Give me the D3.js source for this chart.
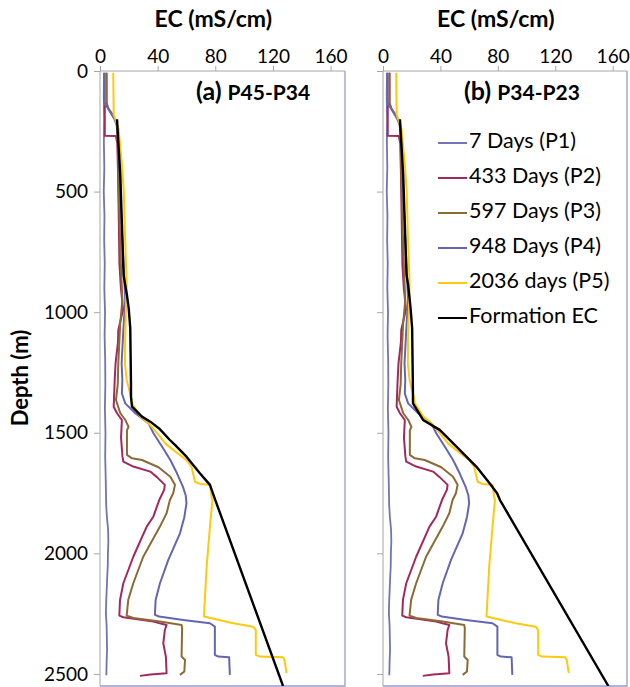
<!DOCTYPE html>
<html><head><meta charset="utf-8">
<script src="https://cdn.jsdelivr.net/npm/d3@7"></script>
<style>
html,body{margin:0;padding:0;background:#fff;}
svg text{font-family:Lato,"Open Sans",sans-serif;fill:#000;}
</style></head>
<body><svg id="chart" width="630" height="687"></svg>
<script>
// ---- data: [depth (m), EC (mS/cm)] ----
const seriesNames = ["7 Days (P1)","433 Days (P2)","597 Days (P3)","948 Days (P4)","2036 days (P5)","Formation EC"];
const xTicks = [0,40,80,120,160];
const yTicks = [0,500,1000,1500,2000,2500];
const panelTitles = [["(a)","P45-P34"],["(b)","P34-P23"]];

const p1 = [[7,2.8],[100,2.6],[200,2.9],[300,2.7],[400,3.0],[500,2.6],[600,3.1],[700,2.9],[800,3.3],[900,3.0],[1000,3.5],[1100,3.2],[1200,3.6],[1300,3.7],[1400,3.4],[1500,3.8],[1600,3.6],[1700,4.0],[1800,4.3],[1850,4.8],[1900,5.6],[1950,5.8],[2000,5.5],[2050,5.4],[2100,5.0],[2200,4.3],[2250,4.1],[2300,4.6],[2400,4.9],[2450,4.6],[2505,4.4]];
const p2 = [[7,4.5],[131,4.5],[150,3.3],[268,3.3],[270,11],[300,12],[420,12.5],[600,13],[800,13.5],[900,14.5],[956,15.5],[990,16],[1074,12.7],[1123,12.5],[1212,10.8],[1281,10.2],[1392,9.5],[1419,11.8],[1447,15.2],[1520,14.6],[1599,15.6],[1620,16.2],[1640,23.1],[1661,34.9],[1684,39.5],[1716,45],[1737,44.5],[1779,41.1],[1848,37],[1889,32.4],[2014,23.1],[2124,16.2],[2193,13.9],[2258,13.4],[2265,16.2],[2283,37],[2297,46.2],[2318,45],[2373,43.9],[2428,45.7],[2497,46.2],[2502,35],[2508,27.7]];
const p3 = [[7,4.5],[131,4.5],[157,6],[187,9.5],[214,11.5],[300,12.5],[500,13],[800,14.5],[950,15.5],[1050,14],[1212,12.7],[1300,12.3],[1364,11.1],[1419,14.1],[1447,17.6],[1475,19.8],[1490,18.7],[1592,18.7],[1606,22.2],[1613,29.1],[1643,40.6],[1682,48.8],[1716,52],[1751,50.8],[1779,48.5],[1834,46.2],[1889,41.6],[2014,30],[2124,23.1],[2193,19.6],[2258,18.5],[2268,23.1],[2283,41.6],[2297,56.6],[2310,57],[2428,56.6],[2442,59],[2490,58.5],[2504,55.5]];
const p4 = [[7,3],[131,3],[160,6],[200,10],[230,12],[400,13.5],[700,15.5],[950,17.5],[1074,16.2],[1212,15],[1281,15.5],[1337,15.2],[1378,17.5],[1419,24.5],[1461,33.7],[1502,37.1],[1557,43],[1613,48.8],[1668,53.4],[1723,57.5],[1760,59.5],[1793,60],[1850,58.5],[1917,55.5],[2027,47.4],[2124,41.6],[2193,38.6],[2255,38.1],[2262,41],[2276,57.8],[2290,76.3],[2304,79.7],[2421,79.7],[2428,82],[2431,89.6],[2504,90.1]];
const p5 = [[7,9.2],[180,9.5],[240,12.9],[394,15.3],[500,16.5],[673,17.3],[880,18.5],[991,18],[1100,17.5],[1212,17.3],[1281,18.5],[1350,21.5],[1378,22.2],[1433,28],[1468,34.9],[1509,40.6],[1544,45.3],[1571,50.8],[1613,60],[1640,63.5],[1703,65.9],[1712,69.3],[1716,76.3],[1765,77.4],[1779,78],[1889,76.3],[2055,74],[2262,72.1],[2290,92.4],[2304,106.3],[2318,108.1],[2421,108.1],[2428,110.9],[2431,127],[2442,128],[2497,129.4]];
const formationA = [[200,11.8],[435,14.1],[600,15],[811,16.2],[846,16.4],[887,17.5],[929,18.7],[983,19.9],[1066,21],[1300,21.5],[1350,21.5],[1392,22.2],[1433,29.1],[1454,34.9],[1482,41],[1530,48.5],[1551,52.2],[1599,60],[1627,63.8],[1668,69.3],[1716,76.3],[1779,80],[2550,127]];
const formationB = [[200,11.8],[435,14.1],[600,15],[811,16.2],[846,16.4],[887,17.5],[929,18.3],[983,19.2],[1066,20.3],[1300,20.8],[1378,20.9],[1447,27.9],[1488,39.5],[1571,53.4],[1640,65],[1710,74.4],[1751,79.5],[1779,81.5],[2550,157]];

const colors = ["#7373b6","#a3285c","#8b6b35","#6565b0","#ffc90e","#000000"];
const widths = [1.8,2,2,2,2,2.4];

// ---- layout ----
const svg = d3.select("#chart");
const panels = [
  {x0:100, x1:345, data:[p1,p2,p3,p4,p5,formationA], yLabels:true, title:panelTitles[0], tx:196},
  {x0:383, x1:627, data:[p1,p2,p3,p4,p5,formationB], yLabels:false, title:panelTitles[1], tx:464}
];
const yTop = 71, yBot = 686;
const y = d3.scaleLinear().domain([0,2550]).range([yTop,yBot]);

panels.forEach((p,i)=>{
  const x = d3.scaleLinear().domain([0,170]).range([p.x0,p.x1]);
  const g = svg.append("g");
  const cid = "clip"+i;
  svg.append("clipPath").attr("id",cid).append("rect")
    .attr("x",p.x0).attr("y",yTop).attr("width",p.x1-p.x0).attr("height",yBot-yTop);
  // frame (right & bottom)
  g.append("path").attr("d",`M${p.x1},${yTop}V${yBot}H${p.x0}`)
    .attr("fill","none").attr("stroke","#9a9acb").attr("stroke-width",1.3);
  // top axis
  const xa = g.append("g").attr("transform",`translate(0,${yTop})`)
    .call(d3.axisTop(x).tickValues(xTicks).tickSize(5).tickSizeOuter(0).tickFormat(d3.format("d")));
  xa.select(".domain").attr("stroke","#a6a6a6").attr("d",`M${p.x0},0H${p.x1}`);
  xa.selectAll(".tick line").attr("stroke","#a6a6a6");
  xa.selectAll(".tick text").attr("font-size",19).attr("y",-8).attr("font-family","Lato");
  // left axis
  const ya = g.append("g").attr("transform",`translate(${p.x0},0)`)
    .call(d3.axisLeft(y).tickValues(yTicks).tickSize(6).tickSizeOuter(0).tickFormat(d3.format("d")));
  ya.select(".domain").attr("stroke","#a6a6a6").attr("d",`M0,${yTop}V${yBot}`);
  ya.selectAll(".tick line").attr("stroke","#a6a6a6");
  ya.selectAll(".tick text").attr("font-size",19).attr("x",-12).attr("font-family","Lato");
  if(!p.yLabels) ya.selectAll(".tick text").remove();
  // title
  g.append("text").attr("x",(x(0)+x(160))/2 - 2).attr("y",27).attr("text-anchor","middle")
    .attr("font-size",23).attr("font-weight","bold").text("EC (mS/cm)");
  const t = g.append("text").attr("x",p.tx).attr("y",100).attr("font-weight","bold");
  t.append("tspan").attr("font-size",25).text(p.title[0]+" ");
  t.append("tspan").attr("font-size",21).text(p.title[1]);
  // series
  const line = d3.line().x(d=>x(d[1])).y(d=>y(d[0]));
  const sg = g.append("g").attr("clip-path",`url(#${cid})`);
  p.data.forEach((s,k)=>{
    sg.append("path").datum(s).attr("d",line).attr("fill","none")
      .attr("stroke",colors[k]).attr("stroke-width",widths[k]).attr("stroke-linejoin","round");
  });
});

// y label
svg.append("text").attr("transform","translate(28,378) rotate(-90)").attr("text-anchor","middle")
  .attr("font-size",22).attr("font-weight","bold").text("Depth (m)");

// legend
const lg = svg.append("g");
seriesNames.forEach((n,k)=>{
  const yy = 143 + k*35;
  lg.append("line").attr("x1",438).attr("x2",467).attr("y1",yy).attr("y2",yy)
    .attr("stroke",colors[k]).attr("stroke-width",2);
  lg.append("text").attr("x",469).attr("y",yy).attr("dominant-baseline","middle")
    .attr("font-size",21.5).text(n);
});
</script></body></html>
